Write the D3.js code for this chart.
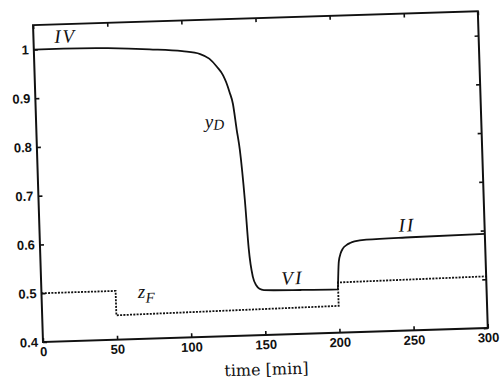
<!DOCTYPE html>
<html>
<head>
<meta charset="utf-8">
<script src="https://cdn.jsdelivr.net/npm/d3@7"></script>
<style>
  html, body { margin: 0; padding: 0; background: #fff; }
  svg { display: block; }
</style>
</head>
<body>
<svg id="chart" width="502" height="382"></svg>
<script>
// ---- data ----
const xTicks = [0, 50, 100, 150, 200, 250, 300];
const yTicks = [0.4, 0.5, 0.6, 0.7, 0.8, 0.9, 1];
const xTickLabels = ["0", "50", "100", "150", "200", "250", "300"];
const yTickLabels = ["0.4", "0.5", "0.6", "0.7", "0.8", "0.9", "1"];

// y_D : top-product composition
const yDTime  = [0, 20, 50, 78, 100, 112, 118, 123, 127, 129, 131, 133, 135, 136.7, 139, 140.6, 142.8, 145, 147, 150, 175, 199.8, 200.3, 201, 202.5, 204, 206.5, 209, 212, 220, 250, 300];
const yDValue = [1.0, 1.0, 0.998, 0.993, 0.987, 0.98, 0.97, 0.953, 0.935, 0.92, 0.9, 0.876, 0.823, 0.781, 0.679, 0.578, 0.52, 0.502, 0.495, 0.492, 0.49, 0.489, 0.515, 0.545, 0.563, 0.572, 0.579, 0.583, 0.586, 0.589, 0.591, 0.593];

// z_F : feed composition (step input)
const zFTime  = [0, 50, 50, 200, 200, 300];
const zFValue = [0.5, 0.5, 0.45, 0.455, 0.503, 0.506];

// curve labels
const labelText = ["IV", "VI", "II"];
const labelT    = [14, 162, 242];
const labelV    = [1.012, 0.502, 0.603];

// ---- drawing ----
const W = 445, H = 317;
const svg = d3.select("#chart");
svg.append("rect").attr("width", 502).attr("height", 382).attr("fill", "#fff");

const g = svg.append("g").attr("transform", "translate(43,342) rotate(-1.8)");

const x = d3.scaleLinear().domain([0, 300]).range([0, W]);
const y = d3.scaleLinear().domain([0.4, 1.05]).range([0, -H]);

const tickFont = "'Liberation Sans', Arial, sans-serif";

const axBottom = g.append("g")
  .call(d3.axisBottom(x).tickValues(xTicks).tickFormat((d, i) => xTickLabels[i])
        .tickSizeInner(-4).tickSizeOuter(0).tickPadding(5));
const axLeft = g.append("g")
  .call(d3.axisLeft(y).tickValues(yTicks).tickFormat((d, i) => yTickLabels[i])
        .tickSizeInner(-4).tickSizeOuter(0).tickPadding(5));
const axTop = g.append("g").attr("transform", `translate(0,${y(1.05)})`)
  .call(d3.axisTop(x).tickValues(xTicks).tickFormat("").tickSizeInner(-4).tickSizeOuter(0));
const axRight = g.append("g").attr("transform", `translate(${x(300)},0)`)
  .call(d3.axisRight(y).tickValues(yTicks).tickFormat("").tickSizeInner(-4).tickSizeOuter(0));

[axBottom, axLeft, axTop, axRight].forEach(a => {
  a.select(".domain").remove();
  a.selectAll(".tick line").attr("stroke", "#111").attr("stroke-width", 1.6);
  a.selectAll("text").attr("fill", "#111")
    .style("font-family", tickFont).style("font-size", "13px").style("font-weight", "bold");
});

// frame
g.append("rect")
  .attr("x", x(0)).attr("y", y(1.05))
  .attr("width", x(300) - x(0)).attr("height", y(0.4) - y(1.05))
  .attr("fill", "none").attr("stroke", "#111").attr("stroke-width", 2);

// curves
const line = d3.line().x(d => x(d[0])).y(d => y(d[1]));
const smooth = d3.line().x(d => x(d[0])).y(d => y(d[1])).curve(d3.curveMonotoneX);

g.append("path")
  .datum(zFTime.map((t, i) => [t, zFValue[i]]))
  .attr("d", line)
  .attr("fill", "none").attr("stroke", "#111").attr("stroke-width", 1.8)
  .attr("stroke-dasharray", "2,1.3");

g.append("path")
  .datum(yDTime.map((t, i) => [t, yDValue[i]]))
  .attr("d", smooth)
  .attr("fill", "none").attr("stroke", "#111").attr("stroke-width", 1.8)
  .attr("stroke-linejoin", "round");

const serif = "'Liberation Serif', 'Times New Roman', serif";

labelText.forEach((s, i) => {
  g.append("text")
    .attr("x", x(labelT[i])).attr("y", y(labelV[i]))
    .style("font-family", serif).style("font-style", "italic")
    .style("font-size", "19px").style("letter-spacing", "2px")
    .attr("fill", "#111").text(s);
});

// y_D label
const yDLab = g.append("text")
  .attr("x", x(113.7)).attr("y", y(0.828))
  .style("font-family", serif).style("font-style", "italic").attr("fill", "#111");
yDLab.append("tspan").style("font-size", "19px").text("y");
yDLab.append("tspan").style("font-size", "15px").attr("dy", 2).text("D");

// z_F label
const zFLab = g.append("text")
  .attr("x", x(65)).attr("y", y(0.484))
  .style("font-family", serif).style("font-style", "italic").attr("fill", "#111");
zFLab.append("tspan").style("font-size", "19px").text("z");
zFLab.append("tspan").style("font-size", "15px").attr("dy", 5).text("F");

// x axis title
g.append("text")
  .attr("x", x(150)).attr("y", 40)
  .attr("text-anchor", "middle")
  .style("font-family", "'DejaVu Serif', serif").style("font-size", "16px")
  .attr("fill", "#111").text("time [min]");
</script>
</body>
</html>
